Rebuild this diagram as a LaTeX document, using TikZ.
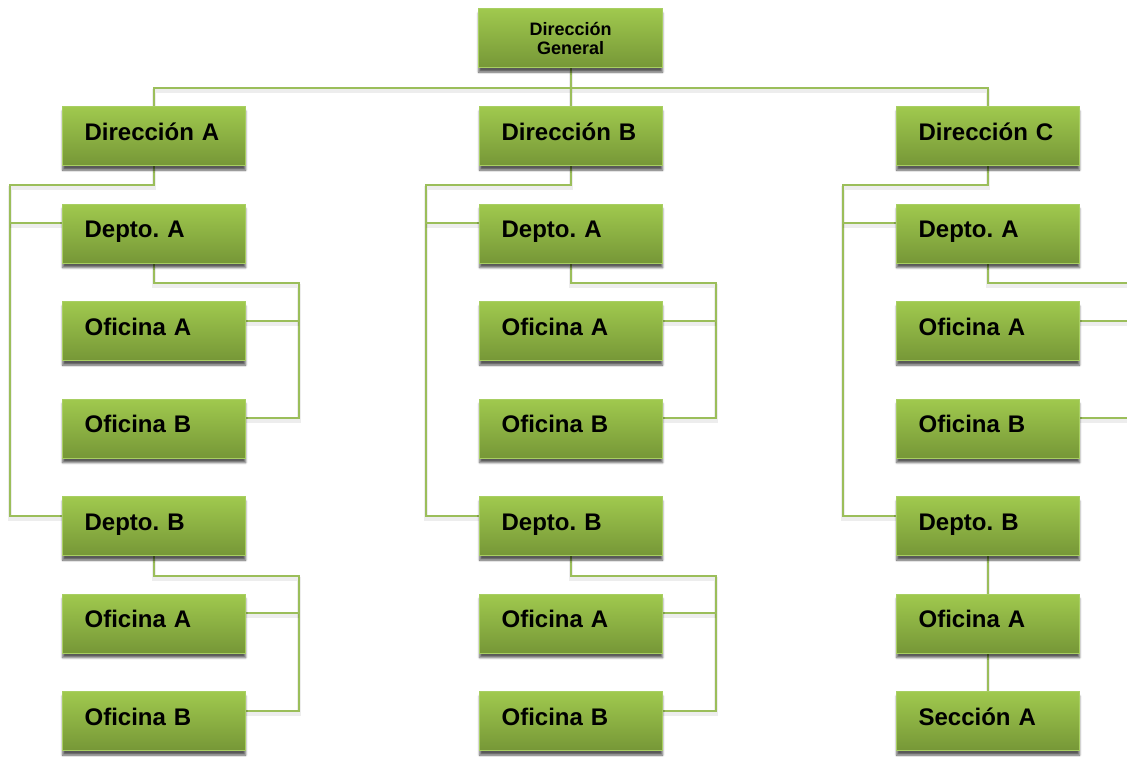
\documentclass[tikz,border=0pt]{standalone}
\usepackage{fontspec}
\setmainfont{Liberation Sans}
\frenchspacing
\usetikzlibrary{calc,shadows.blur}
\definecolor{boxtop}{RGB}{160,201,78}
\definecolor{boxbot}{RGB}{118,151,55}
\definecolor{boxrim}{RGB}{168,207,98}
\definecolor{wirecol}{RGB}{155,190,90}
\pgfdeclarelayer{bg}
\pgfsetlayers{bg,main}

\begin{document}
\begin{tikzpicture}[x=1pt,y=-1pt,
  unitbox/.style={draw=boxrim, line width=1.2pt, top color=boxtop, bottom color=boxbot,
    anchor=north west, minimum width=183pt, minimum height=59pt, inner ysep=0pt,
    blur shadow={shadow xshift=0pt, shadow yshift=-4.5pt, shadow opacity=65, shadow blur steps=6}},
  orgbox/.style={unitbox, text width=139pt, inner xsep=22pt,
    text height=33.5pt, text depth=25.5pt, align=left,
    font=\fontsize{24}{28}\selectfont\bfseries},
  headbox/.style={unitbox, minimum width=184pt, inner xsep=5pt,
    font=\fontsize{18}{19}\selectfont\bfseries},
  wire/.style={draw=wirecol, line width=2pt,
    preaction={draw=black, draw opacity=0.07, line width=4pt, transform canvas={yshift=-3pt}}}]

\useasboundingbox (0,0) rectangle (1127,756);
\clip (0,0) rectangle (1127,756);

% head office
\node[headbox] (dg) at (478,8)
  {\raisebox{-3pt}{\parbox{174pt}{\centering Dirección\\General}}};

% column A
\node[orgbox] (da) at (62,106)   {Dirección A};
\node[orgbox] (aa) at (62,203.5) {Depto. A};
\node[orgbox] (a1) at (62,301)   {Oficina A};
\node[orgbox] (a2) at (62,398.5) {Oficina B};
\node[orgbox] (ab) at (62,496)   {Depto. B};
\node[orgbox] (a3) at (62,593.5) {Oficina A};
\node[orgbox] (a4) at (62,691)   {Oficina B};

% column B
\node[orgbox] (db) at (479,106)   {Dirección B};
\node[orgbox] (ba) at (479,203.5) {Depto. A};
\node[orgbox] (b1) at (479,301)   {Oficina A};
\node[orgbox] (b2) at (479,398.5) {Oficina B};
\node[orgbox] (bb) at (479,496)   {Depto. B};
\node[orgbox] (b3) at (479,593.5) {Oficina A};
\node[orgbox] (b4) at (479,691)   {Oficina B};

% column C
\node[orgbox] (dc) at (896,106)   {Dirección C};
\node[orgbox] (ca) at (896,203.5) {Depto. A};
\node[orgbox] (c1) at (896,301)   {Oficina A};
\node[orgbox] (c2) at (896,398.5) {Oficina B};
\node[orgbox] (cb) at (896,496)   {Depto. B};
\node[orgbox] (c3) at (896,593.5) {Oficina A};
\node[orgbox] (c4) at (896,691)   {Sección A};

\begin{pgfonlayer}{bg}
  % top bus
  \coordinate (bus) at ($(dg.south)+(0,20)$);
  \draw[wire] (dg.south) -- (bus);
  \draw[wire] (da.north) |- (bus) -| (dc.north);
  \draw[wire] (db.north) -- (db.north |- bus);

  % left rails: direction -> departments
  \foreach \d/\p/\q/\r in {da/aa/ab/-144, db/ba/bb/-145, dc/ca/cb/-145} {
    \coordinate (\d-turn) at ($(\d.south)+(0,19)$);
    \coordinate (\d-rail) at ($(\d-turn)+(\r,0)$);
    \coordinate (\p-w) at ($(\p.north west)+(0,19.5)$);
    \coordinate (\q-w) at ($(\q.north west)+(0,19.5)$);
    \draw[wire] (\d.south) -- (\d-turn) -- (\d-rail) -- (\d-rail |- \q-w) -- (\q-w);
    \draw[wire] (\d-rail |- \p-w) -- (\p-w);
  }

  % right rails: department -> offices
  \foreach \d/\p/\q in {aa/a1/a2, ab/a3/a4, ba/b1/b2, bb/b3/b4, ca/c1/c2} {
    \coordinate (\d-turn) at ($(\d.south)+(0,19.5)$);
    \coordinate (\d-rail) at ($(\d-turn)+(145,0)$);
    \coordinate (\p-e) at ($(\p.north east)+(0,19.5)$);
    \coordinate (\q-e) at ($(\q.north east)+(0,19.5)$);
    \draw[wire] (\d.south) -- (\d-turn) -- (\d-rail) -- (\d-rail |- \q-e) -- (\q-e);
    \draw[wire] (\p-e) -- (\d-rail |- \p-e);
  }

  % straight chain in column C
  \draw[wire] (cb.south) -- (c3.north);
  \draw[wire] (c3.south) -- (c4.north);
\end{pgfonlayer}
\end{tikzpicture}
\end{document}
